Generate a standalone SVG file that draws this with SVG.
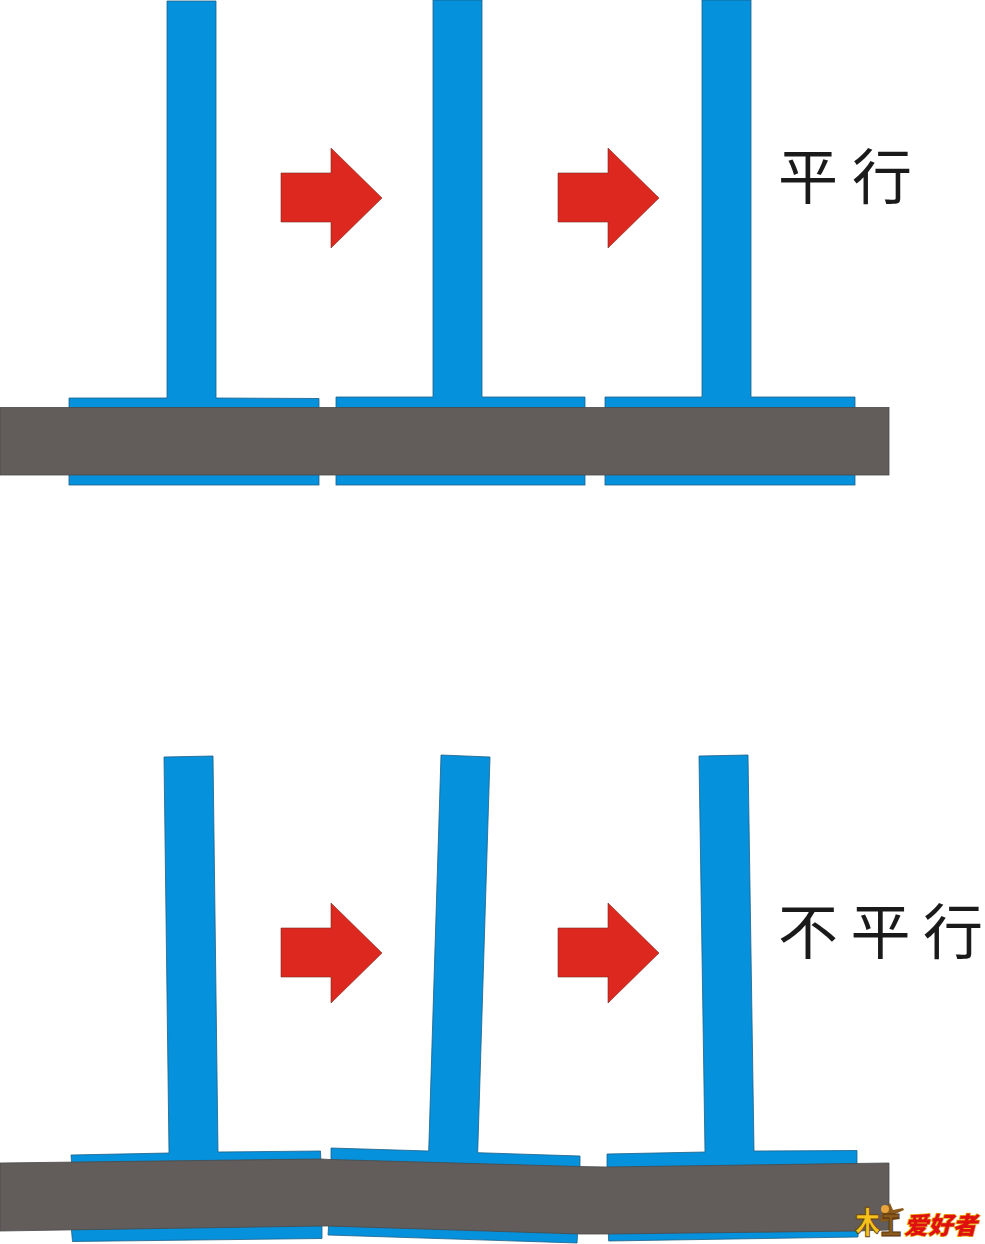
<svg xmlns="http://www.w3.org/2000/svg" width="985" height="1244" viewBox="0 0 985 1244">
<style>
.b{fill:#0591dc;stroke:#1d5f86;stroke-width:.8}
.g{fill:#625d5a;stroke:#4a4a4a;stroke-width:.8}
.r{fill:#dc281e;stroke:#7a2a20;stroke-width:.6}
.t{font-family:"Noto Sans CJK SC","Noto Sans CJK JP",sans-serif;font-size:60px;font-weight:400;fill:#1a1a1a}
.lg{font-family:"Noto Sans CJK SC",sans-serif;font-weight:900}
</style>
<rect width="985" height="1244" fill="#fff"/>
<g id="parallel-parts">
<polygon class="b" points="69,398 167,398 167,1 216,1 216,398 319,398.500 319,412 69,412"/>
<rect class="b" x="69" y="470" width="250" height="15"/>
<polygon class="b" points="336,397 433,397 433,0 482,0 482,397 585,397 585,412 336,412"/>
<rect class="b" x="336" y="470" width="249" height="15"/>
<polygon class="b" points="605,397 702,397 702,0 751,0 751,397 855,397 855,412 605,412"/>
<rect class="b" x="605" y="470" width="250" height="15"/>
</g>
<g id="parallel-board"><rect class="g" x="0" y="407.500" width="889" height="67.500"/></g>
<g id="connectors">
<polygon class="r" points="281,173 331,173 331,148 382,198 331,248 331,222 281,222"/>
<polygon class="r" points="558,173 608,173 608,148 659,198 608,248 608,222 558,222"/>
<polygon class="r" points="281,928 331,928 331,903 382,953 331,1003 331,977 281,977"/>
<polygon class="r" points="558,928 608,928 608,903 659,953 608,1003 608,977 558,977"/>
</g>
<g id="label-parallel"><text class="t" x="778" y="199" textLength="134" lengthAdjust="spacing">平行</text></g>
<g id="nonparallel-parts">
<polygon class="b" points="71,1155 169,1153 164,757 213,756 218,1152 320.500,1151 321,1165 72,1168"/>
<polygon class="b" points="71,1225 322,1222 322,1238.500 72.500,1241.500"/>
<polygon class="b" points="331,1148 428.700,1151 441,755 490,757 477.700,1152.700 580,1156 580,1172 331,1165"/>
<polygon class="b" points="329,1220 578,1227 577,1243 328,1235"/>
<polygon class="b" points="607,1154 705,1152 699,756 748,755 754,1151 857,1150.500 857,1170 607,1172"/>
<polygon class="b" points="608,1228 858,1224 858,1237 608.700,1241"/>
</g>
<g id="nonparallel-board"><polygon class="g" points="0,1163 321,1159 330,1159.500 580,1166.500 607,1167 889,1163 889,1230 857,1231 607,1234 580,1234 328,1226 322,1226 0,1231"/></g>
<g id="label-nonparallel"><text class="t" x="778" y="954" textLength="205" lengthAdjust="spacing">不平行</text></g>
<g id="logo">
<polygon points="882,1213 890,1203 893,1210 903,1208 904,1210 895,1214 900,1219 880,1222" fill="#8a5a1c"/>
<circle cx="885" cy="1209" r="4" fill="#e8a33a"/>
<text class="lg" font-size="25" transform="translate(855,1233) scale(1,1.2)" fill="#f5c21b" stroke="#6b4210" stroke-width=".8">木</text>
<text class="lg" font-size="20" transform="translate(881,1235) scale(1,1.35)" fill="#8a5a1c" stroke="#5a360c" stroke-width=".8">工</text>
<text class="lg" x="904" y="1234" font-size="24" fill="#e01010" stroke="#e8b71a" stroke-width="1.500" paint-order="stroke" textLength="73" lengthAdjust="spacingAndGlyphs" font-style="italic">爱好者</text>
</g>
</svg>
